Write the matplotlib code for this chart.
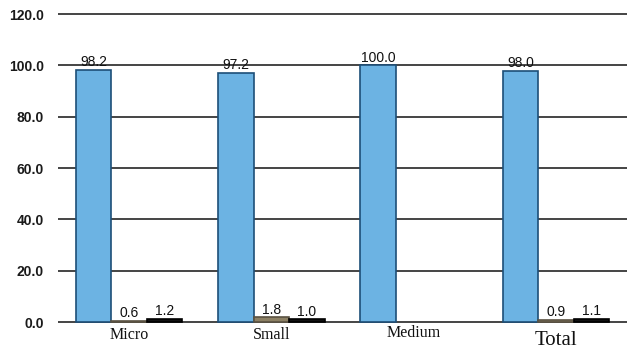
import matplotlib
matplotlib.use("Agg")
import matplotlib.pyplot as plt
import numpy as np

categories = ["Micro", "Small", "Medium", "Total"]
series_a = [98.2, 97.2, 100.0, 98.0]
series_b = [0.6, 1.8, 0.0, 0.9]
series_c = [1.2, 1.0, 0.0, 1.1]
y_ticks = [0.0, 20.0, 40.0, 60.0, 80.0, 100.0, 120.0]

fig = plt.figure(figsize=(6.27, 3.51), dpi=100)
ax = fig.add_axes([58 / 627, 0.0715, 1 - 58 / 627, 0.9746 - 0.0715])

x = np.arange(len(categories))
w = 0.25
styles = [
    (series_a, -w, "#6cb3e3", "#1d4f78"),
    (series_b, 0.0, "#8c8064", "#5a5242"),
    (series_c, w, "#111111", "#000000"),
]

ax.set_axisbelow(True)
ax.grid(axis="y", color="#444444", linewidth=1.4)
ax.grid(axis="x", visible=False)

for vals, off, fc, ec in styles:
    for xi, v in zip(x, vals):
        if v <= 0:
            continue
        ax.bar(xi + off, v, width=w, color=fc, edgecolor=ec, linewidth=1.2)
        ax.text(xi + off, v + 0.3, f"{v:.1f}", ha="center", va="bottom",
                fontsize=10, family="Liberation Sans", color="#111111")

ax.set_xlim(-0.5, 3.5)
ax.set_ylim(-1.5, 122)
ax.set_yticks(y_ticks)
ax.set_yticklabels([f"{t:.1f}" for t in y_ticks], family="Liberation Sans",
                   fontsize=10, fontweight="semibold", color="#1a1a1a")
ax.tick_params(axis="y", length=0, pad=10)
ax.set_xticks([])
for s in ax.spines.values():
    s.set_visible(False)

# category names under each group
label_sizes = [11.5, 11.5, 11.5, 15]
label_dy = [-5.0, -5.0, -4.2, -7.3]
for xi, name, fs, dy in zip(x, categories, label_sizes, label_dy):
    ax.text(xi, dy, name, ha="center", va="center", fontsize=fs,
            family="Liberation Serif", color="#111111", clip_on=False)

fig.savefig("out.png", dpi=100)
